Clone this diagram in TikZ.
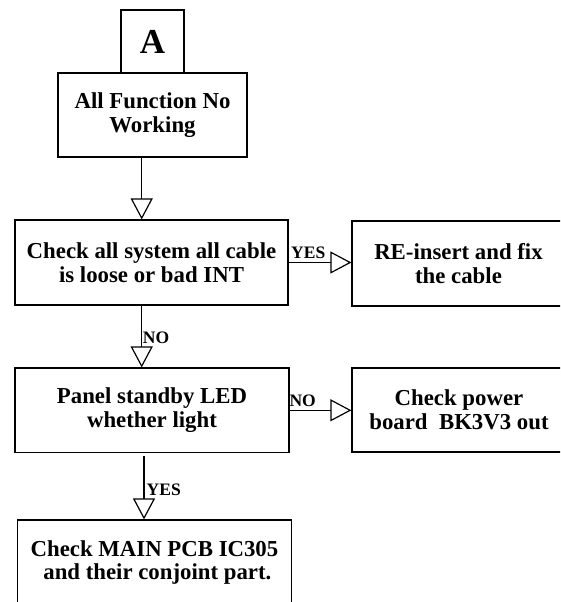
\documentclass[tikz,border=0pt]{standalone}
\usepackage{fontspec}
\setmainfont{Liberation Serif}
\usetikzlibrary{arrows.meta}
\begin{document}
\begin{tikzpicture}[x=1pt,y=-1pt,
  box/.style={draw,line width=1.2pt,inner sep=0pt,align=center,font=\bfseries\fontsize{22.8}{23.5}\selectfont},
  arr/.style={line width=1.2pt,-{Triangle[open,length=21pt,width=22pt,line width=1.2pt]}},
  lab/.style={inner sep=0pt,anchor=base west,font=\bfseries\fontsize{17.5}{17.5}\selectfont}]
\useasboundingbox (0,0) rectangle (560,602);
\clip (0,0) rectangle (560,602);
\node[box,minimum width=63pt,minimum height=63pt,font=\bfseries\fontsize{35}{35}\selectfont] (a) at (152.5,41.5) {A};
\node[box,minimum width=189pt,minimum height=84pt] (f1) at (152.5,115) {All Function No\\Working};
\node[box,minimum width=273pt,minimum height=85pt] (c1) at (151.5,262.5) {Check all system all cable\\is loose or bad INT};
\node[box,minimum width=213pt,minimum height=85pt] (r1) at (458.5,263.5) {RE-insert and fix\\the cable};
\node[box,minimum width=274pt,minimum height=84.5pt] (p1) at (152,410.3) {Panel standby LED\\whether light};
\node[box,minimum width=214pt,minimum height=84pt] (r2) at (459,410) {Check power\\board\ \ BK3V3 out};
\node[box,minimum width=274.4pt,minimum height=85pt] (b1) at (154.5,562.5) {Check MAIN PCB IC305\\\ and their conjoint part.};
\coordinate (ax) at (141.7,0);
\coordinate (bx) at (144,456);
\draw[arr] (f1.south -| ax) -- (c1.north -| ax);
\draw[arr] (c1.south -| ax) -- (p1.north -| ax);
\draw[arr] (bx) -- (b1.north -| bx);
\draw[arr] (c1.east) -- (c1.east -| r1.west);
\draw[arr] (p1.east) -- (p1.east -| r2.west);
\node[lab] (l1) at (291,258.3) {YES};
\node[lab] (l2) at (289.3,406.7) {NO};
\node[lab] (l3) at (142.7,343.3) {NO};
\node[lab] (l4) at (146.5,495) {YES};
\end{tikzpicture}
\end{document}
